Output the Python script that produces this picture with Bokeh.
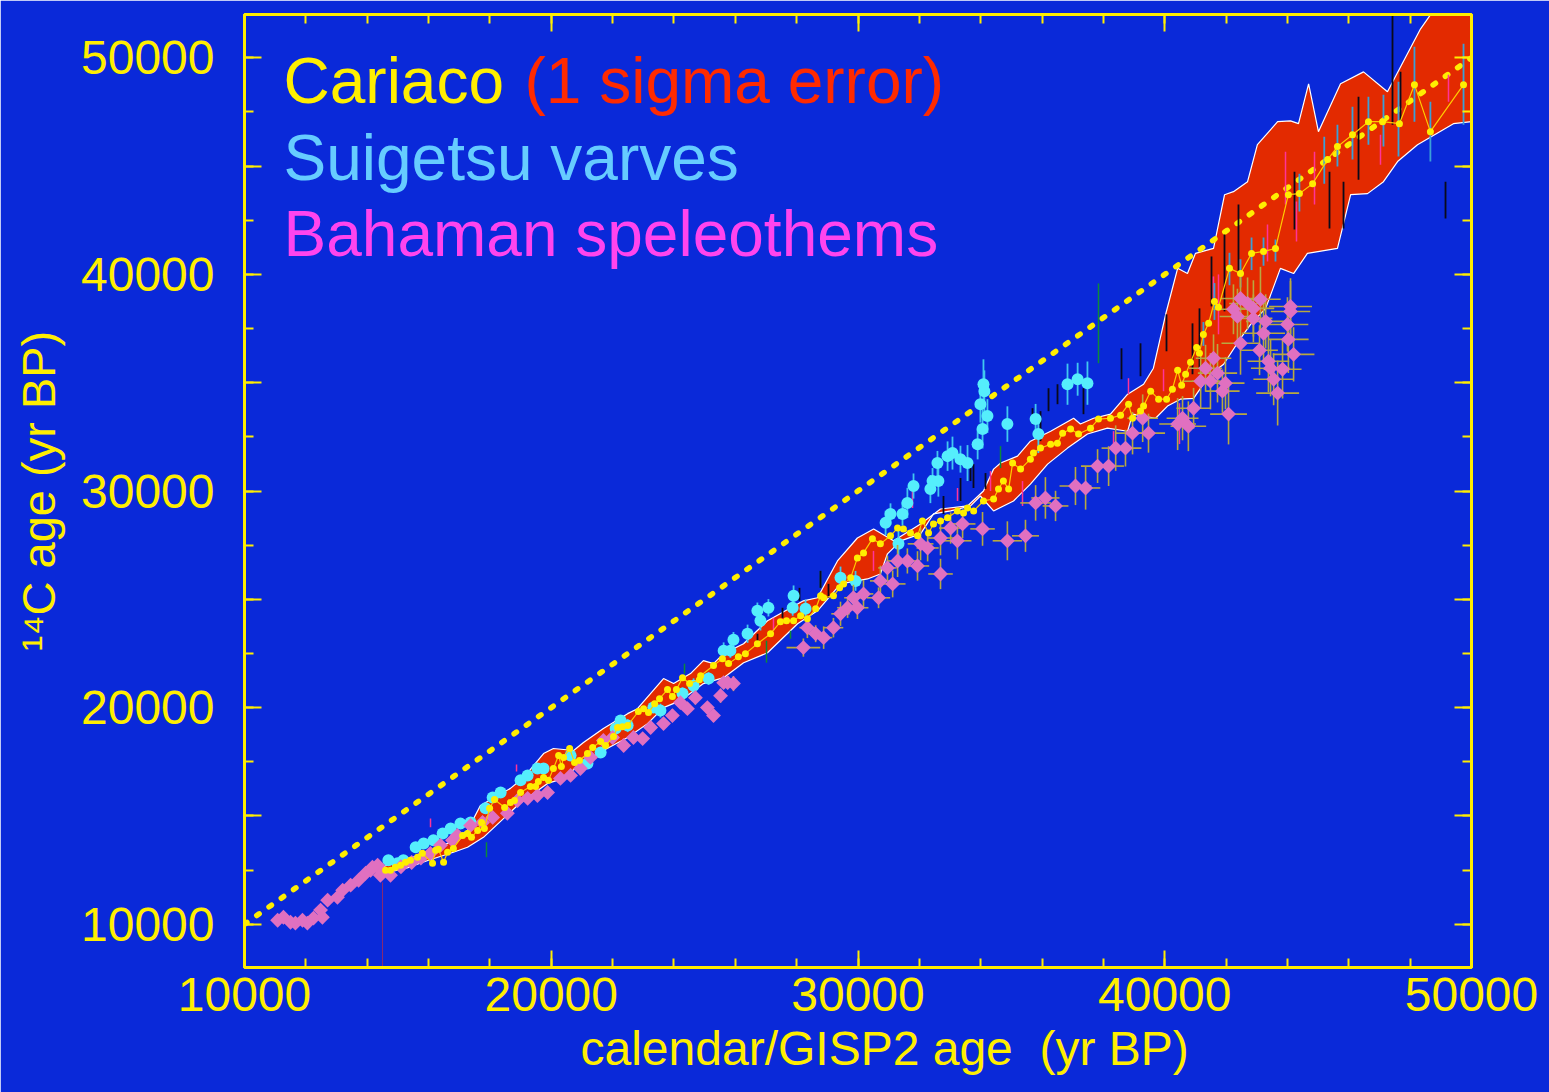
from bokeh.plotting import figure
from bokeh.models import FixedTicker, LinearAxis, Label, ColumnDataSource, Title
from bokeh.embed import file_html
from bokeh.resources import INLINE
import math

# ---------------- axes ----------------
x_major = [10000, 20000, 30000, 40000, 50000]
x_minor = [10000, 12000, 14000, 16000, 18000, 20000, 22000, 24000, 26000, 28000, 30000,
           32000, 34000, 36000, 38000, 40000, 42000, 44000, 46000, 48000, 50000]
y_major = [10000, 15000, 20000, 25000, 30000, 35000, 40000, 45000, 50000]
y_labeled = [10000, 20000, 30000, 40000, 50000]
y_minor = [10000, 12500, 15000, 17500, 20000, 22500, 25000, 27500, 30000, 32500, 35000,
           37500, 40000, 42500, 45000, 47500, 50000]
x_title = "calendar/GISP2 age\u00a0\u00a0(yr BP)"
y_title = "¹⁴C age (yr BP)"

# ---------------- Cariaco (yellow, connected) ----------------
cariaco_x = [14600, 14760, 14920, 15090, 15250, 15410, 15640, 15800, 16130, 16230,
             16320, 16490, 16620, 16810, 17110, 17270, 17400, 17600, 17730, 17820,
             17990, 18150, 18480, 18670, 18800, 19000, 19320, 19490, 19580, 19750,
             19910, 20070, 20240, 20330, 20400, 20600, 20760, 20920, 21180, 21350,
             21610, 21770, 22030, 22160, 22320, 22490, 22840, 23010, 23170, 23370,
             23530, 23790, 23950, 24080, 24280, 24510, 24830, 24870, 25290, 25580,
             25780, 26100, 26330, 26720, 27150, 27470, 27670, 27900, 28130, 28350,
             28620, 28780, 28880, 29200, 29400, 29530, 29760, 29980, 30180, 30470,
             30730, 31060, 31290, 31480, 31710, 31940, 32100, 32300, 32460, 32690,
             32920, 33240, 33440, 33570, 33770, 34090, 34420, 34580, 34740, 34910,
             35040, 35300, 35620, 35720, 35950, 36280, 36500, 36670, 36930, 37190,
             37580, 37840, 38230, 38560, 38820, 38950, 39210, 39310, 39540, 39800,
             40060, 40250, 40420, 40550, 40680, 40840, 41040, 41130, 41260, 41430,
             41620, 41750, 42110, 42470, 42830, 43220, 43610, 44030, 44390, 44820,
             45310, 45630, 46120, 46640, 47100, 47650, 48140, 48660, 49740]
cariaco_y = [12490, 12490, 12630, 12720, 12860, 12950, 13090, 13270, 12810, 13410,
             13460, 12860, 13320, 13500, 14100, 14190, 14010, 14330, 14700, 14420,
             15350, 15760, 15390, 15620, 15710, 16080, 16360, 16360, 16590, 16770,
             16640, 17190, 17790, 17280, 17700, 18110, 17470, 17560, 17880, 18160,
             18430, 18250, 18660, 19080, 19120, 19170, 19820, 19950, 19770, 20180,
             20410, 20830, 20510, 20830, 21380, 21110, 21290, 21470, 21940, 22260,
             22030, 22350, 22490, 22950, 23410, 23960, 24010, 24010, 24240, 24100,
             24560, 25160, 25070, 25160, 25530, 25710, 25990, 26910, 27140, 27790,
             27560, 27930, 28290, 28250, 28060, 27930, 28620, 28060, 28480, 28620,
             28760, 29080, 28990, 29220, 29080, 29540, 29630, 30090, 30460, 30090,
             31290, 31010, 31470, 31750, 31980, 32160, 32210, 32670, 32860, 32630,
             32900, 33320, 33360, 33500, 34010, 33360, 33690, 33920, 34610, 34240,
             34240, 34700, 35580, 34880, 35390, 35940, 36630, 36360, 37230, 37740,
             38750, 38480, 40280, 40040, 40970, 41060, 41200, 43680, 43730, 44190,
             45300, 45900, 46450, 47050, 47050, 46960, 48760, 46590, 48760]

# Cariaco error bars (visible ones, older part)
cbar_x = [41260, 41620, 42110, 42470, 42830, 43220, 43610, 44390, 45200, 45630, 46120,
          46640, 47130, 47620, 48140, 48660, 49740]
cbar_lo = [36700, 37900, 39500, 39400, 40200, 40400, 40600, 42900, 44190, 44980, 45300,
           45990, 45900, 45440, 47050, 45210, 46910]
cbar_hi = [37800, 39600, 41000, 40700, 41700, 41700, 41610, 44650, 46360, 46910, 47740,
           48200, 48290, 48890, 50510, 47970, 50650]

# Cariaco 1-sigma envelope
band_up_x = [14500, 15200, 15900, 16620, 17270, 17690, 18670, 19100, 19750, 20070, 20730,
             21050, 21700, 22490, 22810, 23660, 23990, 24540, 24960, 25290, 25620, 26270,
             27050, 28220, 28680, 29330, 29980, 30510, 31160, 32040, 32690, 33570, 34090,
             34420, 34650, 35200, 35620, 36280, 37030, 37250, 37680, 38230, 38790, 39310,
             39630, 40030, 40420, 40740, 41000, 41590, 41950, 42240, 42700, 43020, 43680,
             44100, 44360, 44690, 45010, 45730, 46480, 47260, 48340, 48660, 50000]
band_up_y = [12650, 12950, 13300, 13730, 14330, 15480, 16270, 16770, 17880, 18110, 18020,
             18390, 19030, 19720, 19950, 21340, 21110, 21570, 22170, 22030, 22490, 22950,
             24010, 24930, 25070, 26770, 27830, 28250, 27700, 28480, 29170, 29310, 30000,
             31010, 31290, 31610, 32300, 32760, 33360, 33090, 33360, 33550, 34470, 34930,
             35670, 38160, 40280, 40040, 40970, 41200, 43680, 43820, 44280, 45990, 47050,
             47090, 46960, 48800, 46590, 48800, 49350, 48430, 51340, 51980, 54500]
band_lo_x = [14500, 15300, 16000, 16810, 17270, 17790, 18900, 19100, 19880, 20200, 21050,
             21700, 22490, 23140, 23660, 24210, 24960, 25620, 26270, 27050, 28030, 28680,
             29430, 30310, 30730, 30960, 31390, 32040, 32460, 33020, 33670, 33990, 34420,
             35070, 35620, 36180, 36830, 37480, 38130, 38790, 38950, 39700, 40090, 40510,
             40940, 41170, 41490, 41920, 42470, 42800, 43290, 43770, 44200, 44650, 45630,
             46060, 46610, 47130, 47590, 48240, 49410, 50000]
band_lo_y = [12330, 12600, 12950, 13320, 13550, 14010, 15480, 15710, 16500, 16640, 17420,
             18020, 18620, 19260, 20000, 20320, 21110, 21380, 22070, 22530, 23870, 24470,
             25710, 25940, 26170, 27100, 27700, 28020, 28940, 29080, 29310, 29770, 29080,
             29540, 30320, 31240, 31980, 32630, 32900, 32760, 33550, 33360, 33920, 34240,
             34280, 34750, 35390, 35850, 37050, 37690, 38430, 40280, 40040, 40970, 41200,
             43680, 43730, 44280, 45210, 45990, 46960, 47050]

# ---------------- Suigetsu varves (cyan) ----------------
sui_x = [14690, 14990, 15180, 15580, 15840, 16160, 16460, 16720, 17040, 17370,
         17860, 18090, 18350, 19000, 19230, 19550, 19750, 20630, 21180, 21610,
         22100, 22260, 22490, 23330, 23560, 24280, 24640, 25130, 25620, 25840,
         25940, 26400, 26720, 26820, 27080, 27870, 27900, 28290, 29430, 29920,
         30900, 31060, 31320, 31450, 31610, 31810, 32360, 32430, 32620, 32590,
         32920, 33080, 33340, 33570, 33900, 34060, 34220, 33990, 34090, 34120,
         34870, 35790, 35880, 36830, 37160, 37480]
sui_y = [12950, 12810, 12950, 13550, 13730, 13870, 14190, 14420, 14650, 14700,
         15350, 15850, 16080, 16640, 16870, 17190, 17190, 17790, 17420, 17930,
         19030, 19400, 19170, 20000, 19860, 20650, 21010, 21340, 22630, 22630,
         23130, 23410, 24470, 24010, 24610, 24610, 25160, 24560, 25990, 25850,
         28530, 28940, 27560, 28940, 29450, 30230, 30090, 30460, 30460, 31290,
         31610, 31750, 31470, 31290, 32160, 32860, 33460, 34010, 34930, 34610,
         33090, 33320, 32630, 34930, 35160, 34980]
sui_err = [110, 140, 120, 150, 130, 160, 120, 170, 140, 150,
           180, 160, 200, 170, 220, 190, 210, 250, 200, 230,
           260, 230, 300, 250, 320, 280, 340, 290, 380, 330,
           360, 420, 380, 450, 400, 370, 480, 430, 520, 460,
           560, 490, 610, 540, 700, 580, 650, 600, 720, 560,
           680, 760, 620, 830, 700, 900, 780, 850, 1150, 960,
           820, 700, 880, 950, 760, 1000]

# ---------------- Bahaman speleothems (pink diamonds) ----------------
bah_x = [11080, 11270, 11500, 11660, 11890, 12050, 12250, 12480, 12540, 12710,
         13030, 13200, 13460, 13720, 13950, 14110, 14170, 14340, 14430, 14500,
         14760, 16060, 16390, 16780, 16940, 17370, 17760, 18090, 18570, 18900,
         19230, 19550, 19880, 20300, 20630, 20950, 21280, 21700, 22000, 22360,
         22680, 22980, 23240, 23660, 23950, 24210, 24440, 24700, 25090, 25290,
         25520, 25620, 25750, 25940, 28220, 28350, 28620, 28880, 29200, 29430,
         29660, 29850, 29980, 30180, 30670, 30730, 30960, 31130, 31290, 31610,
         31940, 32040, 32270, 32690, 32690, 33020, 33240, 33410, 34060, 34870,
         35460, 35790, 36110, 36440, 37090, 37420, 37810, 38170, 38400, 38720,
         38950, 39280, 39470, 40420, 40580, 40770, 40940, 41170, 41330, 41490,
         41590, 41720, 41880, 41980, 42080, 42240, 42370, 42470, 42470, 42700,
         42890, 42890, 43120, 43290, 43220, 43090, 43380, 43450, 43550, 43680,
         43840, 44000, 44030, 44100, 44100, 44200,
         15100, 15450, 15750]
bah_y = [10180, 10320, 10090, 10050, 10180, 10050, 10280, 10650, 10320, 11110,
         11240, 11570, 11800, 12030, 12350, 12490, 12630, 12720, 12260, 12400,
         12260, 13270, 13640, 13870, 14100, 14560, 14700, 14930, 15120, 15710,
         15810, 15940, 16080, 16730, 16870, 17190, 17700, 18480, 18620, 18250,
         18620, 18570, 19080, 19260, 19630, 20230, 19950, 20460, 20000, 19630,
         20550, 21150, 21150, 21110, 22770, 23690, 23410, 23230, 23690, 24330,
         24610, 25070, 24610, 25250, 25070, 25850, 26450, 25710, 26770, 26770,
         26540, 27560, 27370, 27830, 26170, 28290, 27700, 28480, 28250, 27700,
         27930, 29450, 29680, 29310, 30230, 30140, 31150, 31150, 31980, 31980,
         32670, 33360, 32670, 33090, 33360, 32990, 33820, 35070, 35670, 35070,
         36130, 35440, 34610, 34980, 33550, 38390, 38060, 38890, 36820, 38660,
         38430, 37970, 38850, 37830, 37280, 36500, 35990, 35670, 35160, 34520,
         35620, 37690, 37000, 38520, 38290, 36310,
         12650, 12850, 13050]
bah_yerr = [90, 110, 80, 100, 90, 120, 80, 110, 100, 130,
            100, 140, 110, 120, 150, 130, 110, 160, 120, 140,
            150, 120, 170, 140, 180, 160, 140, 190, 150, 200,
            170, 210, 180, 230, 190, 220, 200, 250, 210, 240,
            260, 220, 280, 240, 300, 250, 270, 320, 260, 290,
            330, 280, 300, 350, 420, 480, 390, 520, 450, 560,
            470, 600, 520, 640, 480, 700, 560, 620, 740, 580,
            680, 760, 620, 800, 700, 720, 860, 660, 780, 900,
            740, 820, 960, 700, 880, 1000, 780, 920, 1050, 850,
            980, 1100, 900, 1200, 1020, 1150, 940, 1250, 1080, 1300,
            1100, 1350, 1000, 1200, 1400, 1150, 1280, 1050, 1450, 1200,
            1300, 1100, 1500, 1250, 1380, 1150, 1420, 1300, 1200, 1500,
            1350, 1250, 1550, 1300, 1400, 1250,
            130, 150, 140]
bah_xerr = [50, 60, 50, 70, 50, 60, 70, 50, 60, 70,
            60, 70, 80, 60, 70, 80, 60, 70, 80, 70,
            80, 70, 90, 80, 90, 100, 80, 90, 100, 90,
            100, 110, 90, 110, 100, 120, 110, 100, 120, 110,
            120, 130, 110, 130, 140, 120, 130, 150, 130, 140,
            150, 140, 160, 150, 550, 260, 300, 280, 320, 300,
            340, 300, 360, 320, 380, 340, 300, 420, 360, 400,
            380, 420, 360, 440, 400, 380, 460, 420, 400, 480,
            440, 500, 460, 420, 520, 480, 540, 500, 460, 520,
            560, 500, 540, 600, 520, 580, 560, 620, 540, 600,
            580, 640, 560, 620, 600, 660, 580, 640, 620, 600,
            680, 620, 660, 640, 700, 600, 680, 640, 660, 700,
            620, 680, 660, 700, 640, 680,
            80, 90, 80]

# ---------------- other records' error bars ----------------
black_x = [47425, 47686, 46317, 45828, 45371, 44230, 42404, 41948, 41524, 41133,
           40905, 40057, 39210, 38590, 49153, 36211, 36504, 37351, 35689, 35950,
           33668, 33765, 33342, 32787, 34157, 27539, 28093, 26724, 28778, 29038]
black_lo = [46910, 46910, 44376, 42119, 42119, 42073, 39999, 38294, 38524, 35667,
            35390, 36451, 35299, 35160, 42580, 33686, 34008, 33547, 33087, 32303,
            30460, 30138, 29538, 28939, 30092, 24147, 24930, 22949, 25529, 25068]
black_hi = [52500, 49353, 48201, 44283, 44745, 44745, 43224, 41842, 40828, 38432,
            37740, 38155, 36819, 36589, 44283, 34745, 34929, 34745, 33824, 33686,
            31381, 31243, 30598, 29769, 30829, 24608, 25529, 23409, 26313, 25713]
mag_x = [43937, 44882, 44295, 43350, 47033, 49250, 41752, 41589, 39960, 38818,
         40481, 35363, 34320, 38330, 33244, 31777, 30505, 27245, 18868, 16064]
mag_lo = [43224, 43224, 41520, 40598, 45068, 47971, 37234, 38755, 34607, 34469,
          32165, 29308, 29999, 31981, 29538, 29216, 26313, 23548, 17050, 14470]
mag_hi = [45667, 45667, 43363, 42303, 46449, 49215, 39999, 39907, 35622, 35207,
          34054, 30460, 30921, 32764, 30138, 29999, 27234, 24147, 17373, 14885]
green_x = [37840, 34646, 17889, 24344, 27017, 27800, 28778]
green_lo = [35900, 31059, 13087, 21566, 22073, 23179, 25529]
green_hi = [39584, 32072, 13778, 22027, 23087, 23548, 26313]
purple_x = [14500]
purple_lo = [7000]
purple_hi = [11930]

# 1:1 reference line
diag_x = [10000, 50000]
diag_y = [10000, 50000]

# ---------------- styling ----------------
BG = "#0a29d9"
YEL = "#ffee00"
FONT = "Liberation Sans"

p = figure(width=1549, height=1092, x_range=(10000, 50000), y_range=(8000, 52000),
           output_backend="svg", toolbar_location=None,
           min_border_left=244, min_border_right=78, min_border_top=14, min_border_bottom=125,
           background_fill_color=BG, border_fill_color=BG,
           outline_line_color=YEL, outline_line_width=3)
p.grid.visible = False


def style_axis(ax, ticker, show_labels):
    ax.ticker = ticker
    ax.axis_line_color = YEL
    ax.axis_line_width = 3
    ax.major_tick_line_color = YEL
    ax.major_tick_line_width = 2
    ax.minor_tick_line_color = YEL
    ax.minor_tick_line_width = 2
    ax.major_tick_in = 17
    ax.major_tick_out = 0
    ax.minor_tick_in = 9
    ax.minor_tick_out = 0
    ax.major_label_text_font = FONT
    if show_labels:
        ax.major_label_text_color = YEL
        ax.major_label_text_font_size = "48px"
    else:
        ax.major_label_text_color = None
        ax.major_label_text_font_size = "10px"
        ax.major_label_standoff = 0


xt = FixedTicker(ticks=x_major, minor_ticks=x_minor)
yt = FixedTicker(ticks=y_major, minor_ticks=y_minor)

xb = p.below[0]
style_axis(xb, xt, True)
xb.major_label_standoff = 10

yl = p.left[0]
style_axis(yl, yt, True)
yl.major_label_standoff = 30
yl.major_label_overrides = {t: (str(t) if t in y_labeled else "") for t in y_major}
yl.axis_label = y_title
yl.axis_label_text_font = FONT
yl.axis_label_text_font_size = "47px"
yl.axis_label_text_font_style = "normal"
yl.axis_label_text_color = YEL
yl.axis_label_standoff = 13

top = LinearAxis()
style_axis(top, FixedTicker(ticks=x_major, minor_ticks=x_minor), False)
p.add_layout(top, "above")
right = LinearAxis()
style_axis(right, FixedTicker(ticks=y_major, minor_ticks=y_minor), False)
p.add_layout(right, "right")

# invisible spacer axis below the tick labels, to push the title down
spacer = LinearAxis(ticker=FixedTicker(ticks=[30000], minor_ticks=[]),
                    axis_line_color=None, major_tick_line_color=None,
                    minor_tick_line_color=None, major_label_text_color=None,
                    major_label_text_font_size="10px", major_label_standoff=2)
p.add_layout(spacer, "below")

# x-axis title as a title panel below the axis (left-aligned with an offset)
p.add_layout(Title(text=x_title, align="left", offset=336, standoff=0,
                   vertical_align="bottom", text_font=FONT, text_font_size="48px",
                   text_font_style="normal", text_color=YEL), "below")

# ---------------- glyphs ----------------
poly_x = band_up_x + band_lo_x[::-1]
poly_y = band_up_y + band_lo_y[::-1]
p.patch(poly_x, poly_y, fill_color="#e32a00", line_color=None)
p.line(band_up_x, band_up_y, line_color="white", line_width=1.2)
p.line(band_lo_x, band_lo_y, line_color="white", line_width=1.2)

p.line(diag_x, diag_y, line_color=YEL, line_width=5.5, line_dash="3 12", line_cap="round")


def vbars(xs, lo, hi, color, width=1.5):
    src = ColumnDataSource(dict(x0=xs, y0=lo, x1=xs, y1=hi))
    p.segment(x0="x0", y0="y0", x1="x1", y1="y1", source=src, line_color=color, line_width=width)


vbars(purple_x, purple_lo, purple_hi, "#8a2a70", 1)
vbars(green_x, green_lo, green_hi, "#0c8a3a")
vbars(black_x, black_lo, black_hi, "#0a0a1a", 1.8)
vbars(mag_x, mag_lo, mag_hi, "#ff3399")
vbars(cbar_x, cbar_lo, cbar_hi, "#3aa0d8", 1.8)

sui_lo = [y - e for y, e in zip(sui_y, sui_err)]
sui_hi = [y + e for y, e in zip(sui_y, sui_err)]
vbars(sui_x, sui_lo, sui_hi, "#40c8f0", 1.8)
p.scatter(sui_x, sui_y, marker="circle", size=12, fill_color="#55eefc", line_color=None)

b_lo = [y - e for y, e in zip(bah_y, bah_yerr)]
b_hi = [y + e for y, e in zip(bah_y, bah_yerr)]
b_l = [x - e for x, e in zip(bah_x, bah_xerr)]
b_r = [x + e for x, e in zip(bah_x, bah_xerr)]
vbars(bah_x, b_lo, b_hi, "#b8a840", 1.6)
p.segment(x0=b_l, y0=bah_y, x1=b_r, y1=bah_y, line_color="#b8a840", line_width=1.6)
p.scatter(bah_x, bah_y, marker="square", angle=math.pi / 4, size=10.5,
          fill_color="#e070c0", line_color=None)

p.line(cariaco_x, cariaco_y, line_color="#ffcc00", line_width=1.2)
p.scatter(cariaco_x, cariaco_y, marker="circle", size=7, fill_color=YEL, line_color=None)

# ---------------- legend texts ----------------
LEG = "64px"
p.add_layout(Label(x=39, y=887, x_units="screen", y_units="screen", text="Cariaco",
                   text_color=YEL, text_font=FONT, text_font_size=LEG,
                   text_baseline="alphabetic"))
p.add_layout(Label(x=280, y=887, x_units="screen", y_units="screen", text="(1 sigma error)",
                   text_color="#ff2a00", text_font=FONT, text_font_size=LEG,
                   text_baseline="alphabetic"))
p.add_layout(Label(x=39, y=810, x_units="screen", y_units="screen", text="Suigetsu varves",
                   text_color="#66ccff", text_font=FONT, text_font_size=LEG,
                   text_baseline="alphabetic"))
p.add_layout(Label(x=39, y=734, x_units="screen", y_units="screen", text="Bahaman speleothems",
                   text_color="#ff44ee", text_font=FONT, text_font_size=LEG,
                   text_baseline="alphabetic"))

open("out.html", "w").write(file_html(p, INLINE))
